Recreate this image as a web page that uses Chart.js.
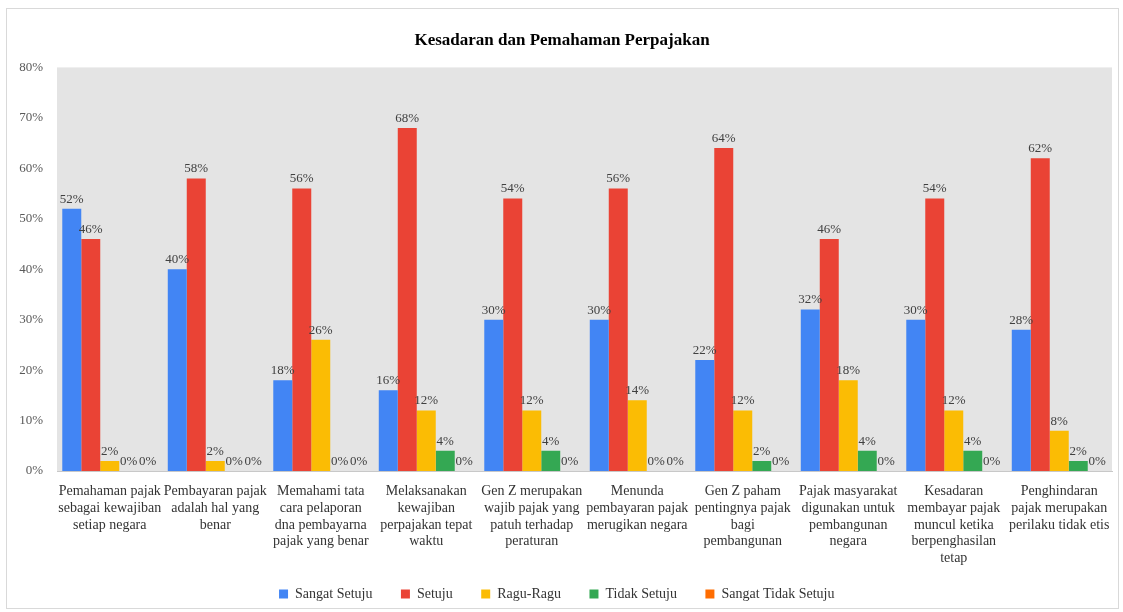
<!DOCTYPE html>
<html>
<head>
<meta charset="utf-8">
<script src="https://cdn.jsdelivr.net/npm/chart.js@4.4.1/dist/chart.umd.min.js"></script>
<style>
  html, body { margin: 0; padding: 0; background: #fff; }
  #wrap { position: relative; width: 1123px; height: 612px; }
</style>
</head>
<body>
<div id="wrap"><canvas id="chart" width="1123" height="612"></canvas></div>
<script>
// Kesadaran dan Pemahaman Perpajakan — grouped bars, 5 answers per statement.

const categories = [
    ["Pemahaman pajak", "sebagai kewajiban", "setiap negara"],
    ["Pembayaran pajak", "adalah hal yang", "benar"],
    ["Memahami tata", "cara pelaporan", "dna pembayarna", "pajak yang benar"],
    ["Melaksanakan", "kewajiban", "perpajakan tepat", "waktu"],
    ["Gen Z merupakan", "wajib pajak yang", "patuh terhadap", "peraturan"],
    ["Menunda", "pembayaran pajak", "merugikan negara"],
    ["Gen Z paham", "pentingnya pajak", "bagi", "pembangunan"],
    ["Pajak masyarakat", "digunakan untuk", "pembangunan", "negara"],
    ["Kesadaran", "membayar pajak", "muncul ketika", "berpenghasilan", "tetap"],
    ["Penghindaran", "pajak merupakan", "perilaku tidak etis"]
];

const sangatSetuju      = [52, 40, 18, 16, 30, 30, 22, 32, 30, 28];
const setuju            = [46, 58, 56, 68, 54, 56, 64, 46, 54, 62];
const raguRagu          = [2, 2, 26, 12, 12, 14, 12, 18, 12, 8];
const tidakSetuju       = [0, 0, 0, 4, 4, 0, 2, 4, 4, 2];
const sangatTidakSetuju = [0, 0, 0, 0, 0, 0, 0, 0, 0, 0];

const seriesNames = ["Sangat Setuju", "Setuju", "Ragu-Ragu", "Tidak Setuju", "Sangat Tidak Setuju"];
const seriesColors = ["#4285F4", "#EA4335", "#FBBC04", "#34A853", "#FF6D01"];

const SERIF = "'Liberation Serif', 'Times New Roman', serif";

// gray plot background + outer frame
const backdrop = {
    id: "backdrop",
    beforeDraw(chart) {
        const { ctx, chartArea: a } = chart;
        ctx.save();
        ctx.fillStyle = "#fff";
        ctx.fillRect(0, 0, chart.width, chart.height);
        ctx.strokeStyle = "#d9d9d9";
        ctx.lineWidth = 1;
        ctx.strokeRect(6.5, 8.5, 1112, 600);
        ctx.fillStyle = "#e4e4e4";
        ctx.fillRect(a.left, a.top, a.right - a.left, a.bottom - a.top);
        ctx.restore();
    }
};

// value labels on top of each bar
const valueLabels = {
    id: "valueLabels",
    afterDatasetsDraw(chart) {
        const { ctx } = chart;
        ctx.save();
        ctx.font = `13px ${SERIF}`;
        ctx.fillStyle = "#404040";
        ctx.textAlign = "center";
        ctx.textBaseline = "bottom";
        chart.data.datasets.forEach((ds, di) => {
            const meta = chart.getDatasetMeta(di);
            meta.data.forEach((bar, i) => {
                ctx.fillText(ds.data[i] + "%", bar.x, bar.y - 3);
            });
        });
        ctx.restore();
    }
};

const allSeries = [sangatSetuju, setuju, raguRagu, tidakSetuju, sangatTidakSetuju];

new Chart(document.getElementById("chart"), {
    type: "bar",
    data: {
        labels: categories,
        datasets: allSeries.map((vals, i) => ({
            label: seriesNames[i],
            data: vals,
            backgroundColor: seriesColors[i],
            borderWidth: 0,
            categoryPercentage: 0.9,
            barPercentage: 1.0
        }))
    },
    options: {
        responsive: false,
        animation: false,
        // small left padding nudges title and legend right; y axis keeps plot at x=57
        layout: { padding: { left: 12, right: 11, top: 0, bottom: 1 } },
        plugins: {
            title: {
                display: true,
                text: "Kesadaran dan Pemahaman Perpajakan",
                color: "#000",
                font: { family: SERIF, size: 17, weight: "bold" },
                padding: { top: 30, bottom: 17 }
            },
            legend: {
                position: "bottom",
                labels: {
                    color: "#333",
                    font: { family: SERIF, size: 14 },
                    boxWidth: 9,
                    boxHeight: 9,
                    padding: 18,
                    // extra trailing spaces widen the gap between items
                    generateLabels(chart) {
                        const items = Chart.defaults.plugins.legend.labels.generateLabels(chart);
                        items.forEach(it => { it.text = it.text + "   "; });
                        return items;
                    }
                }
            },
            tooltip: { enabled: false }
        },
        scales: {
            x: {
                grid: { display: false },
                border: { display: true, color: "#c8c8c8" },
                ticks: {
                    color: "#333",
                    font: { family: SERIF, size: 14, lineHeight: 1.2 },
                    maxRotation: 0,
                    autoSkip: false,
                    padding: 4
                },
                afterFit(scale) { scale.height = 98; }
            },
            y: {
                min: 0,
                max: 80,
                grid: { display: false },
                border: { display: false },
                ticks: {
                    stepSize: 10,
                    color: "#595959",
                    font: { family: SERIF, size: 13 },
                    padding: 6,
                    callback: v => v + "%"
                },
                afterFit(scale) { scale.width = 45; }
            }
        }
    },
    plugins: [backdrop, valueLabels]
});
</script>
</body>
</html>
